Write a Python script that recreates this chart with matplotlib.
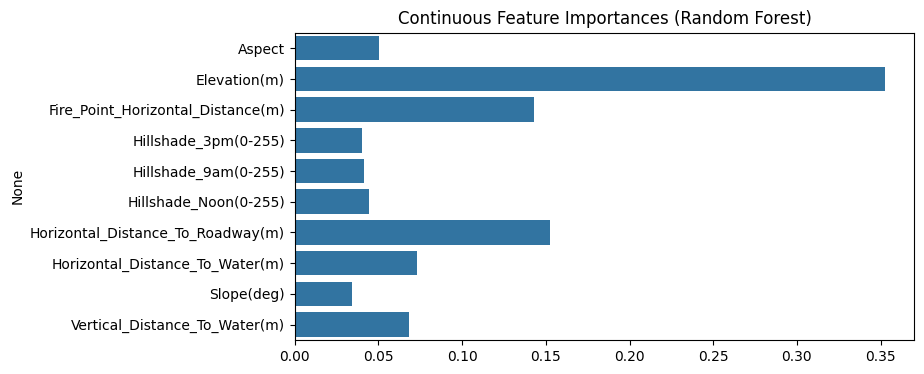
import numpy as np
import pandas as pd
import matplotlib
matplotlib.use('Agg')
import matplotlib.pyplot as plt
import seaborn as sns

# feature importances
features = ['Aspect', 'Elevation(m)', 'Fire_Point_Horizontal_Distance(m)',
            'Hillshade_3pm(0-255)', 'Hillshade_9am(0-255)', 'Hillshade_Noon(0-255)',
            'Horizontal_Distance_To_Roadway(m)', 'Horizontal_Distance_To_Water(m)',
            'Slope(deg)', 'Vertical_Distance_To_Water(m)']
importances = [0.0504, 0.3525, 0.1430, 0.0402, 0.0414, 0.0444,
               0.1525, 0.0731, 0.0342, 0.0683]

fig = plt.figure(figsize=(9.24, 3.74), dpi=100)
ax = fig.add_axes([0.319, 0.091, 0.6705, 0.8215])

sns.barplot(x=importances, y=features, orient='h', ax=ax)

ax.set_title('Continuous Feature Importances (Random Forest)')
ax.set_ylabel('None')
ax.set_xlabel('')

plt.savefig('out.png', dpi=100)
